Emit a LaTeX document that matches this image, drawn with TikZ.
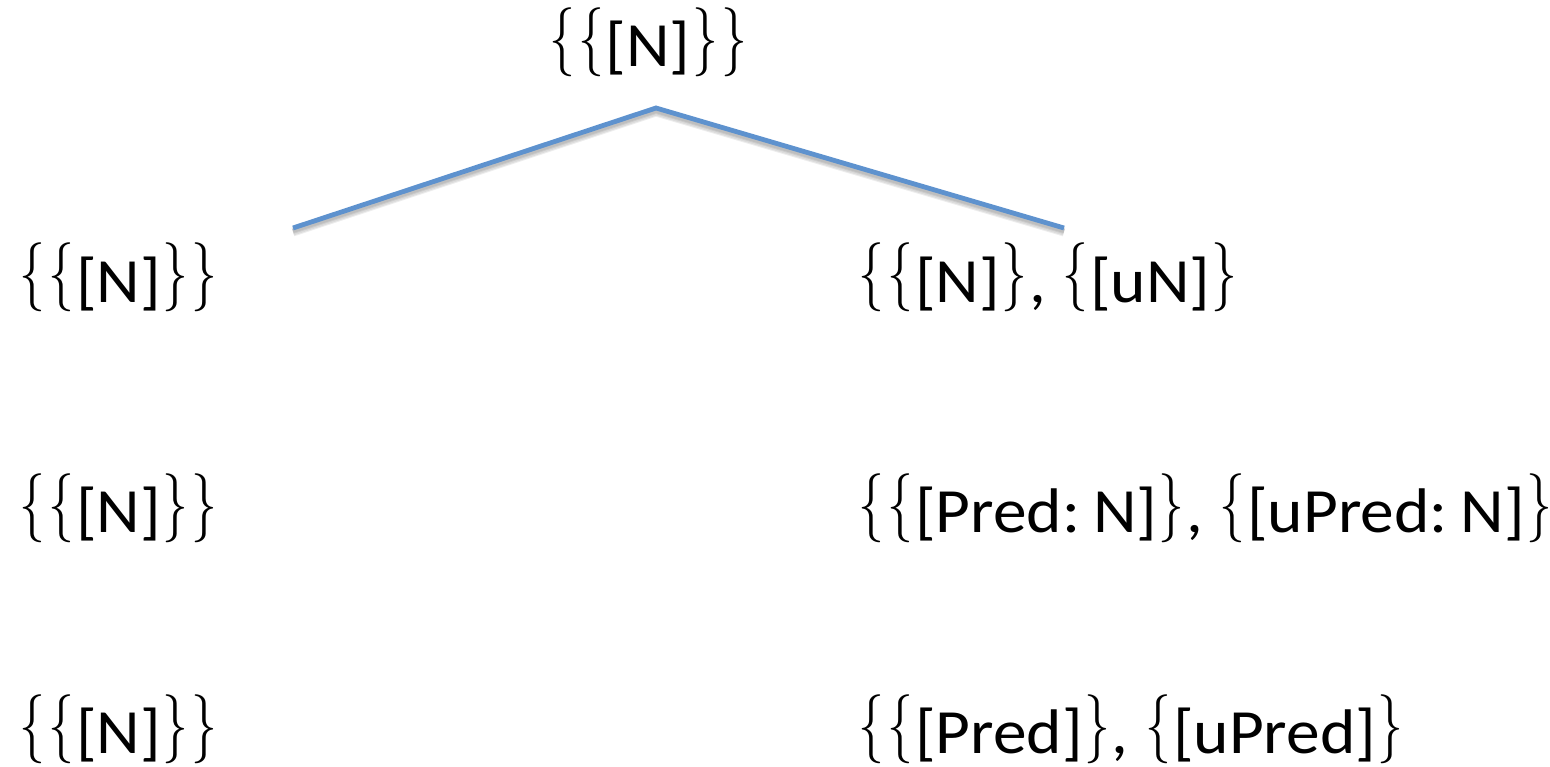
\documentclass[tikz,border=0pt]{standalone}
\usepackage{graphicx}
\usepackage{fontspec}
\setmainfont{Carlito}[FakeStretch=1.07]
\newfontfamily\bracefont{Latin Modern Roman}
\newcommand{\LBr}{\makebox[29pt][c]{\raisebox{7pt}{\scalebox{0.75}[1]{\fontsize{69}{80}\bracefont\{}}}}
\newcommand{\RBr}{\makebox[29pt][c]{\raisebox{7pt}{\scalebox{0.75}[1]{\fontsize{69}{80}\bracefont\}}}}}
\newcommand{\Col}{:\kern-2.5pt\ }
\definecolor{treeblue}{RGB}{94,146,206}
\begin{document}
\begin{tikzpicture}[x=1pt,y=-1pt,
  lbl/.style={anchor=base west,inner sep=0pt,font=\fontsize{63}{75}\selectfont},
  branch/.style={treeblue,line width=4.8pt},
  shade/.style={black,line width=#1,opacity=0.07}]
\useasboundingbox (0,0) rectangle (1550,767);
\node[lbl] (top) at (547.5,67) {\LBr\LBr[N]\RBr\RBr};
\node[lbl] (l1) at (18,302) {\LBr\LBr[N]\RBr\RBr};
\node[lbl] (r1) at (857,302) {\LBr\LBr[N]\RBr, \LBr[uN]\RBr};
\node[lbl] (l2) at (18,532) {\LBr\LBr[N]\RBr\RBr};
\node[lbl] (r2) at (857,532) {\LBr\LBr[Pred\Col N]\RBr, \LBr[uPred\Col N]\RBr};
\node[lbl] (l3) at (18,753) {\LBr\LBr[N]\RBr\RBr};
\node[lbl] (r3) at (857,753) {\LBr\LBr[Pred]\RBr, \LBr[uPred]\RBr};
\coordinate (apex) at (656,108);
\coordinate (lend) at (293,228);
\coordinate (rend) at (1064,228);
\foreach \w/\s in {9pt/4pt,7pt/4pt,5pt/3.5pt,4pt/3pt}{
  \draw[shade=\w] ([yshift=-\s]lend) -- ([yshift=-\s]apex) -- ([yshift=-\s]rend);
}
\draw[branch] (lend) -- (apex) -- (rend);
\end{tikzpicture}
\end{document}
